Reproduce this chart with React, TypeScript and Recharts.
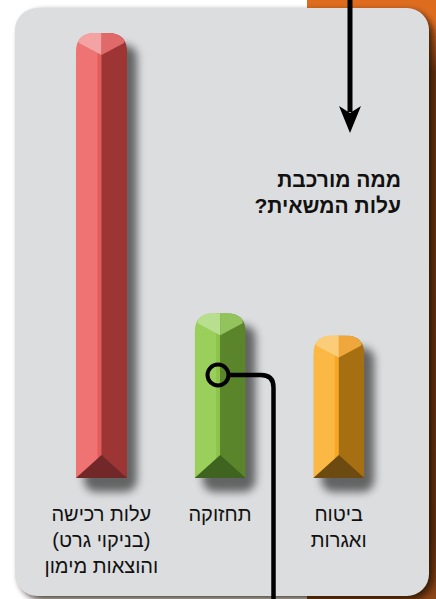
import { BarChart, Bar, XAxis, YAxis } from "recharts";

// categories, left to right as printed
const categories = [
  "עלות רכישה\n(בניקוי גרט)\nוהוצאות מימון",
  "תחזוקה",
  "ביטוח\nואגרות",
];
// relative share of the truck cost
const shares = [100, 37, 32];

const titleLines = ["ממה מורכבת", "עלות המשאית?"];

// bar palettes: light side, centre stripe, dark side, top-left, top-right, base
const palettes = [
  ["#ef7373", "#e65a5a", "#9d3535", "#f4a3a3", "#e06a6a", "#722828"],
  ["#9bcf5c", "#8cc34b", "#5b852b", "#b8de8f", "#92c35c", "#3f6420"],
  ["#fbb845", "#f7a823", "#a56f12", "#fccd78", "#efa73c", "#6c4a10"],
];

const data = categories.map((name, i) => ({ name, share: shares[i] }));

const FONT = '"Liberation Sans", "DejaVu Sans", sans-serif';

// 3D looking bar with rounded cap, bevelled base and drop shadow
const BeveledBar = (props: any) => {
  const { x, y, width: w, height: h, index } = props;
  const p = palettes[index % palettes.length];
  const b = y + h;
  const cx = x + w / 2;
  const r = 19;
  const outline = `M${x},${b} V${y + r} Q${x},${y} ${x + r},${y} H${x + w - r} Q${x + w},${y} ${x + w},${y + r} V${b} Z`;
  return (
    <g>
      <defs>
        <filter id={`bs-${index}`} x="-50%" y="-20%" width="200%" height="140%">
          <feGaussianBlur stdDeviation="4" />
        </filter>
        <clipPath id={`bc-${index}`}>
          <path d={outline} />
        </clipPath>
      </defs>
      <rect
        x={x + 8}
        y={y + 12}
        width={w + 2}
        height={h + 2}
        rx={12}
        fill="#000"
        opacity={0.55}
        filter={`url(#bs-${index})`}
      />
      <g clipPath={`url(#bc-${index})`}>
        <rect x={x} y={y} width={w / 2} height={h} fill={p[0]} />
        <rect x={cx - 4} y={y} width={4} height={h} fill={p[1]} />
        <rect x={cx} y={y} width={w / 2} height={h} fill={p[2]} />
        <polygon points={`${x + 3},${y} ${cx},${y} ${cx},${y + 22} ${x + 3},${y + 10}`} fill={p[3]} />
        <polygon points={`${cx},${y} ${x + w - 3},${y} ${x + w - 3},${y + 10} ${cx},${y + 22}`} fill={p[4]} />
        <polygon points={`${x},${b} ${cx},${b - 23} ${x + w},${b}`} fill={p[5]} />
      </g>
    </g>
  );
};

const LabelTick = (props: any) => {
  const { x, y, payload } = props;
  const lines = String(payload.value).split("\n");
  return (
    <g transform={`translate(${x},${y})`}>
      <text
        textAnchor="middle"
        direction="rtl"
        fontFamily={FONT}
        fontSize={20}
        fill="#111"
      >
        {lines.map((l, i) => (
          <tspan key={i} x={0} y={43 + i * 26}>
            {l}
          </tspan>
        ))}
      </text>
    </g>
  );
};

export default function App() {
  return (
    <div style={{ position: "relative", width: 436, height: 599, background: "#fff", overflow: "hidden" }}>
      <style>{`body{margin:0}`}</style>

      {/* backdrop: orange tab and grey rounded panel */}
      <svg width={436} height={599} style={{ position: "absolute", left: 0, top: 0 }}>
        <defs>
          <filter id="panelShadow" x="-10%" y="-10%" width="120%" height="120%">
            <feGaussianBlur stdDeviation="3" />
          </filter>
          <linearGradient id="edge" x1="0" y1="0" x2="0" y2="599" gradientUnits="userSpaceOnUse">
            <stop offset="0" stopColor="#dd6c1f" />
            <stop offset="0.04" stopColor="#dd6c1f" />
            <stop offset="0.12" stopColor="#6e3612" />
            <stop offset="0.9" stopColor="#6b3413" />
            <stop offset="1" stopColor="#8a4517" />
          </linearGradient>
        </defs>
        <rect x={307} y={0} width={129} height={599} fill="url(#edge)" />
        <rect x={307} y={0} width={129} height={24} fill="#dd6c1f" />
        <rect x={19} y={11} width={414} height={589} rx={24} fill="#1a0a00" opacity={0.75} filter="url(#panelShadow)" />
        <rect x={15} y={8} width={414} height={588} rx={22} fill="#dcdddf" />
      </svg>

      <div style={{ position: "absolute", left: 0, top: 0 }}>
        <BarChart
          width={436}
          height={599}
          data={data}
          margin={{ top: 33, right: 38, left: 42, bottom: 0 }}
          barSize={51}
        >
          <XAxis
            dataKey="name"
            axisLine={false}
            tickLine={false}
            tickSize={0}
            tickMargin={0}
            height={121}
            interval={0}
            tick={<LabelTick />}
          />
          <YAxis hide domain={[0, 100]} />
          <Bar dataKey="share" isAnimationActive={false} shape={<BeveledBar />} />
        </BarChart>
      </div>

      {/* title */}
      <div
        dir="rtl"
        style={{
          position: "absolute",
          right: 35,
          top: 167,
          fontFamily: FONT,
          fontWeight: "bold",
          fontSize: 21,
          lineHeight: "26px",
          color: "#111",
          textAlign: "right",
          whiteSpace: "nowrap",
        }}
      >
        {titleLines.map((l) => (
          <div key={l}>{l}</div>
        ))}
      </div>

      {/* arrow and callout lines */}
      <svg width={436} height={599} style={{ position: "absolute", left: 0, top: 0, pointerEvents: "none" }}>
        <line x1={350} y1={0} x2={350} y2={112} stroke="#000" strokeWidth={5} />
        <polygon points="339,106 350,113 361,106 350,133" fill="#000" />
        <circle cx={218} cy={375} r={10.5} fill="none" stroke="#000" strokeWidth={4} />
        <path d="M229,375 H261 Q273.5,375 273.5,387.5 V599" fill="none" stroke="#000" strokeWidth={4.5} />
      </svg>
    </div>
  );
}
